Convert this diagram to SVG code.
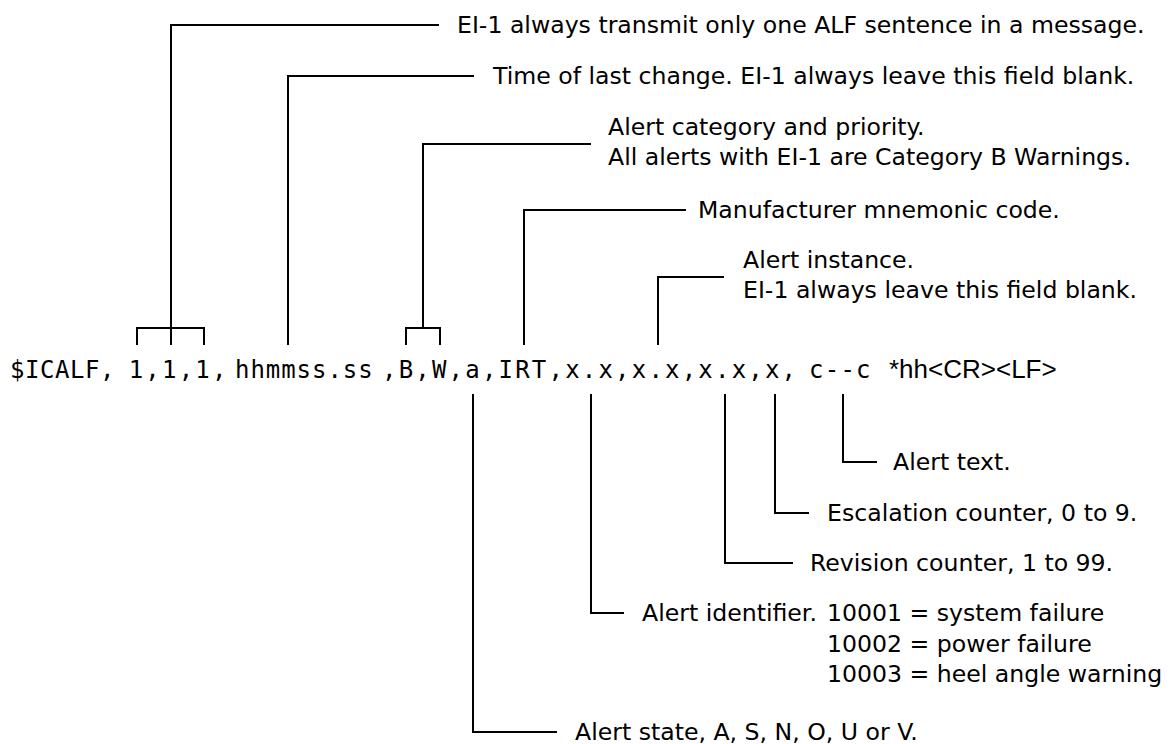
<svg xmlns="http://www.w3.org/2000/svg" width="1170" height="744" viewBox="0 0 1170 744">
<style>
.bg{fill:#ffffff}
.ln{fill:none;stroke:#000;stroke-width:2;stroke-linejoin:miter;stroke-linecap:square}
.lbl{font-family:"DejaVu Sans","Verdana",sans-serif;font-size:23.6px;fill:#000}
.mono{font-family:"DejaVu Sans Mono","Liberation Mono",monospace;font-size:24px;fill:#000}
.prop{font-family:"Liberation Sans","Arial",sans-serif;font-size:26px;fill:#000}
</style>
<rect class="bg" x="0" y="0" width="1170" height="744"/>
<g id="connectors">
<path class="ln" d="M171,328 V25 H438"/>
<path class="ln" d="M137,344 V328 H204 V344 M171,328 V344"/>
<path class="ln" d="M288,344 V76 H473"/>
<path class="ln" d="M423,328 V144 H590"/>
<path class="ln" d="M406,344 V328 H440 V344"/>
<path class="ln" d="M524,344 V210 H685"/>
<path class="ln" d="M658,344 V277 H723"/>
<path class="ln" d="M473,395 V732 H556"/>
<path class="ln" d="M591,395 V613 H623"/>
<path class="ln" d="M725,395 V563 H792"/>
<path class="ln" d="M775,395 V513 H808"/>
<path class="ln" d="M843,395 V462 H876"/>
</g>
<g id="sentence">
<text y="378"><tspan class="mono" x="10" letter-spacing="0.55">$ICALF,</tspan><tspan class="mono" x="128.7" letter-spacing="2.2">1,1,1,</tspan><tspan class="mono" x="235" letter-spacing="0.95">hhmmss.ss</tspan><tspan class="mono" x="382" letter-spacing="2.2">,B,W,a,IRT,x.x,x.x,x.x,x,</tspan><tspan class="mono" x="809" letter-spacing="1.25">c--c</tspan><tspan class="prop" x="889">*hh&lt;CR&gt;&lt;LF&gt;</tspan></text>
</g>
<g id="note-sentences">
<text class="lbl" x="457" y="33">EI-1 always transmit only one ALF sentence in a message.</text>
</g>
<g id="note-time">
<text class="lbl" x="493" y="84">Time of last change. EI-1 always leave this field blank.</text>
</g>
<g id="note-category">
<text class="lbl" x="608" y="135">Alert category and priority.</text>
<text class="lbl" x="608" y="165">All alerts with EI-1 are Category B Warnings.</text>
</g>
<g id="note-manufacturer">
<text class="lbl" x="698" y="218">Manufacturer mnemonic code.</text>
</g>
<g id="note-instance">
<text class="lbl" x="743" y="268">Alert instance.</text>
<text class="lbl" x="743" y="298">EI-1 always leave this field blank.</text>
</g>
<g id="note-text">
<text class="lbl" x="893" y="470">Alert text.</text>
</g>
<g id="note-escalation">
<text class="lbl" x="827" y="521">Escalation counter, 0 to 9.</text>
</g>
<g id="note-revision">
<text class="lbl" x="810" y="571">Revision counter, 1 to 99.</text>
</g>
<g id="note-identifier">
<text class="lbl" x="642" y="621">Alert identifier.</text>
<text class="lbl" x="827" y="621">10001 = system failure</text>
<text class="lbl" x="827" y="652">10002 = power failure</text>
<text class="lbl" x="827" y="682">10003 = heel angle warning</text>
</g>
<g id="note-state">
<text class="lbl" x="575" y="740">Alert state, A, S, N, O, U or V.</text>
</g>
</svg>
